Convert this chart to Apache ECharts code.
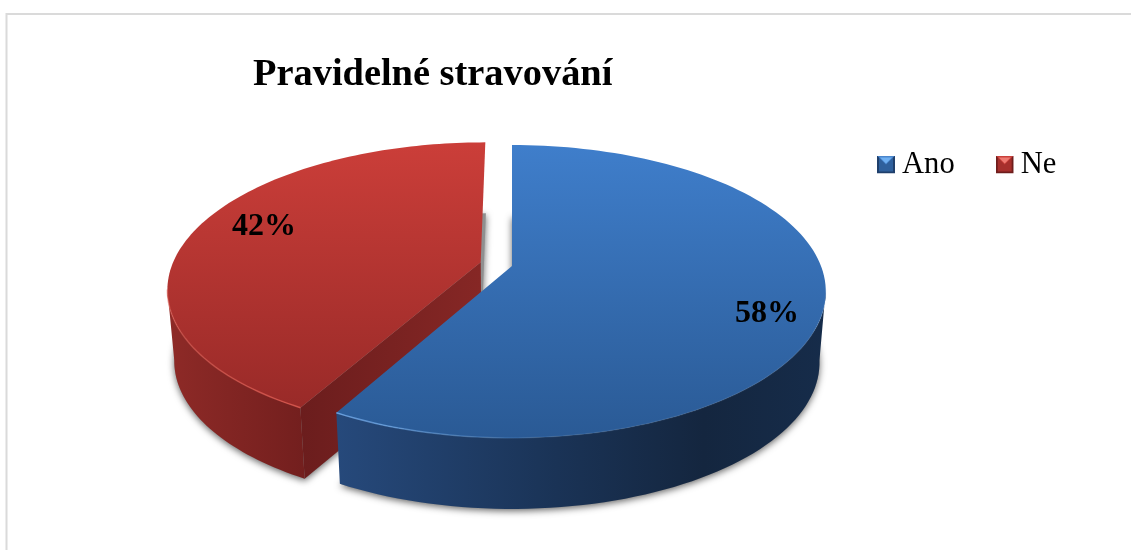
<!DOCTYPE html>
<html>
<head>
<meta charset="utf-8">
<title>Pravidelné stravování</title>
<style>
  html, body { margin: 0; padding: 0; background: #fff; }
  #chart { width: 1131px; height: 550px; }
</style>
<script src="https://cdn.jsdelivr.net/npm/echarts@6/dist/echarts.min.js"></script>
</head>
<body>
<div id="chart"></div>
<script>
// Chart data
const chartTitle = 'Pravidelné stravování';
const categories = ['Ano', 'Ne'];
const shares = [58, 42];

// Pull-out of each slice, as a fraction of the pie radius
const explode = [0, 0.105];
// Label anchors on the unit disc (right, back)
const labelSpotsU = [0.779, -0.843];
const labelSpotsV = [-0.32, 0.29];

// Perspective of the pie plane
const CX = 512, CY = 266;
const RX = 309, RY = 142, PERSPECTIVE = 0.174;
const DEPTH = 71, TAPER = 0.98;
const SERIF = '"Liberation Serif", "Times New Roman", serif';

const palette = [
  {
    topFrom: '#3f7ecb', topTo: '#2a5a95',
    wall: [[0, '#26497b'], [0.45, '#1a3356'], [0.75, '#14263f'], [1, '#162c4a']],
    rim: [[0, 'rgba(115,175,240,0.85)'], [0.4, 'rgba(100,160,225,0.15)'], [1, 'rgba(130,165,210,0.1)']]
  },
  {
    topFrom: '#cb3e39', topTo: '#992a28',
    wall: [[0, '#8e2a27'], [1, '#731f1e']],
    rim: [[0, 'rgba(222,92,82,0.5)'], [1, 'rgba(225,90,80,0.8)']],
    cut: [[0, '#6b1d1d'], [1, '#862725']]
  }
];

const gradient = (x2, y2, stops) =>
  new echarts.graphic.LinearGradient(0, 0, x2, y2,
    stops.map(([offset, color]) => ({ offset, color })));

// Disc coordinates to screen, with the far side foreshortened
function project(u, v) {
  const d = 1 + PERSPECTIVE * v;
  return [CX + RX * u / d, CY - RY * v / d];
}
const drop = p => [CX + (p[0] - CX) * TAPER, p[1] + DEPTH];

function sliceBounds(index) {
  const total = shares.reduce((a, b) => a + b, 0);
  const before = shares.slice(0, index).reduce((a, b) => a + b, 0);
  const start = before / total * Math.PI * 2;
  return [start, start + shares[index] / total * Math.PI * 2];
}

function renderSlice(params, api) {
  const i = params.seriesIndex;
  const value = api.value(0);
  const colors = palette[i];
  const [start, end] = sliceBounds(i);
  const mid = (start + end) / 2;
  const u0 = explode[i] * Math.sin(mid);
  const v0 = explode[i] * Math.cos(mid);

  const steps = 120;
  const arc = [];
  for (let s = 0; s <= steps; s++) {
    const a = start + (end - start) * s / steps;
    arc.push(project(u0 + Math.sin(a), v0 + Math.cos(a)));
  }
  const apex = project(u0, v0);

  // The part of the rim facing the viewer lies below its widest point
  const widest = arc.reduce((w, p) =>
    Math.abs(p[0] - CX) > Math.abs(w[0] - CX) ? p : w, arc[0]);
  const front = arc.filter(p => p[1] >= widest[1]);
  const children = [];

  // Floor of the slice, only there to cast the soft grey shadow
  children.push({
    type: 'polygon',
    shape: { points: [drop(apex)].concat(arc.map(drop)) },
    style: {
      fill: '#8f8f8f',
      shadowBlur: 7, shadowColor: 'rgba(0,0,0,0.6)', shadowOffsetY: 2
    }
  });
  // Curved outer wall
  children.push({
    type: 'polygon',
    shape: { points: front.concat(front.map(drop).reverse()) },
    style: { fill: gradient(1, 0, colors.wall) }
  });
  // Flat face left open by pulling the slice out
  if (colors.cut) {
    const corner = arc[0];
    children.push({
      type: 'polygon',
      shape: { points: [corner, apex, drop(apex), drop(corner)] },
      style: { fill: gradient(1, 0, colors.cut) }
    });
  }
  // Top face
  children.push({
    type: 'polygon',
    shape: { points: [apex].concat(arc) },
    style: { fill: gradient(0, 1, [[0, colors.topFrom], [1, colors.topTo]]) }
  });
  // Bevel highlight along the near rim
  children.push({
    type: 'polyline',
    shape: { points: front },
    style: { fill: 'none', stroke: gradient(1, 0, colors.rim), lineWidth: 1.5 }
  });
  // Percentage label
  const spot = project(labelSpotsU[i], labelSpotsV[i]);
  children.push({
    type: 'text',
    style: {
      text: value + '%', x: spot[0], y: spot[1],
      align: 'center', verticalAlign: 'middle',
      fill: '#000', fontFamily: SERIF, fontWeight: 'bold', fontSize: 32
    }
  });
  return { type: 'group', children };
}

// Small bevelled square used as the legend key
function keyIcon(light, mid, dark, peak) {
  const svg = '<svg xmlns="http://www.w3.org/2000/svg" width="18" height="18">'
    + '<rect width="18" height="18" fill="' + dark + '"/>'
    + '<rect x="2" y="2" width="14" height="14" fill="' + mid + '"/>'
    + '<path d="M0 0H18L9 9Z" fill="' + light + '"/>'
    + '<path d="M3 2H15L9 8Z" fill="' + peak + '"/>'
    + '</svg>';
  return 'image://data:image/svg+xml;charset=utf-8,' + encodeURIComponent(svg);
}
const keyIcons = [
  keyIcon('#4a86cc', '#2f609c', '#1f3f6b', '#6fb0f2'),
  keyIcon('#c9403b', '#a62f2c', '#6e1d1c', '#ee7a72')
];

const chart = echarts.init(document.getElementById('chart'));
chart.setOption({
  animation: false,
  backgroundColor: '#fff',
  title: {
    text: chartTitle,
    left: 253, top: 56, padding: 0,
    textStyle: { fontFamily: SERIF, fontWeight: 'bold', fontSize: 38.4, color: '#000' }
  },
  legend: {
    left: 877, top: 149, padding: 0,
    itemWidth: 18, itemHeight: 18, itemGap: 41,
    data: categories.map((name, i) => ({ name, icon: keyIcons[i] })),
    textStyle: { fontFamily: SERIF, fontSize: 30.6, color: '#000', padding: [4, 0, 0, 2] }
  },
  graphic: [{
    type: 'polyline',
    silent: true,
    shape: { points: [[6.5, 550], [6.5, 14], [1131, 14]] },
    style: { fill: 'none', stroke: '#dadada', lineWidth: 2 }
  }],
  series: categories.map((name, i) => ({
    type: 'custom',
    name,
    coordinateSystem: 'none',
    z: 10 - i,
    itemStyle: { color: palette[i].topFrom },
    data: [shares[i]],
    renderItem: renderSlice
  }))
});
</script>
</body>
</html>
